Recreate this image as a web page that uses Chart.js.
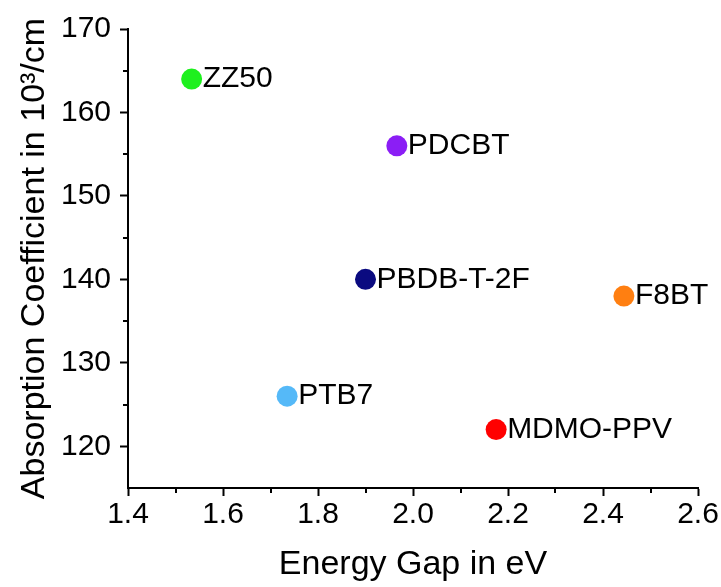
<!DOCTYPE html>
<html>
<head>
<meta charset="utf-8">
<script src="https://cdn.jsdelivr.net/npm/chart.js@4/dist/chart.umd.min.js"></script>
<style>
html,body{margin:0;padding:0;background:#fff;}
#wrap{width:721px;height:587px;position:relative;}
</style>
</head>
<body>
<div id="wrap"><canvas id="c" width="721" height="587"></canvas></div>
<script>
const materials = ["ZZ50", "PDCBT", "PBDB-T-2F", "F8BT", "PTB7", "MDMO-PPV"];
const energyGap = [1.534, 1.966, 1.900, 2.444, 1.735, 2.175];
const absorption = [164, 156, 140, 138, 126, 122];
const pointColors = ["#1ef01e", "#8b1ef5", "#0a0a80", "#ff7f11", "#55b9f8", "#ff0000"];
const xMajorTicks = [1.4, 1.6, 1.8, 2.0, 2.2, 2.4, 2.6];
const xMinorTicks = [1.5, 1.7, 1.9, 2.1, 2.3, 2.5];
const yMajorTicks = [120, 130, 140, 150, 160, 170];
const yMinorTicks = [125, 135, 145, 155, 165];

const FONT = "Arial, 'Liberation Sans', sans-serif";

const minorTickPlugin = {
  id: 'minorTicks',
  afterDraw(chart) {
    const ctx = chart.ctx;
    const xs = chart.scales.x, ys = chart.scales.y;
    ctx.save();
    ctx.strokeStyle = '#000';
    ctx.lineWidth = 2;
    ctx.beginPath();
    xMinorTicks.forEach(v => {
      const px = Math.round(xs.getPixelForValue(v));
      ctx.moveTo(px, xs.top);
      ctx.lineTo(px, xs.top + 5);
    });
    yMinorTicks.forEach(v => {
      const py = Math.round(ys.getPixelForValue(v));
      ctx.moveTo(ys.right, py);
      ctx.lineTo(ys.right - 5, py);
    });
    ctx.stroke();
    ctx.restore();
  }
};

const pointLabelPlugin = {
  id: 'pointLabels',
  afterDatasetsDraw(chart) {
    const ctx = chart.ctx;
    const meta = chart.getDatasetMeta(0);
    ctx.save();
    ctx.fillStyle = '#000';
    ctx.font = "30px " + FONT;
    ctx.textAlign = 'left';
    ctx.textBaseline = 'middle';
    meta.data.forEach((el, i) => {
      ctx.fillText(materials[i], el.x + 11, el.y);
    });
    ctx.restore();
  }
};

new Chart(document.getElementById('c'), {
  type: 'scatter',
  data: {
    datasets: [{
      data: energyGap.map((x, i) => ({x: x, y: absorption[i]})),
      pointBackgroundColor: pointColors,
      pointBorderWidth: 0,
      pointRadius: 10.5,
      pointHoverRadius: 10.5
    }]
  },
  options: {
    responsive: false,
    animation: false,
    events: [],
    layout: { padding: { top: 29, right: 23, left: 0, bottom: 0 } },
    plugins: { legend: { display: false }, tooltip: { enabled: false } },
    scales: {
      x: {
        type: 'linear',
        min: 1.4, max: 2.6,
        afterBuildTicks: s => { s.ticks = xMajorTicks.map(v => ({value: v})); },
        afterFit: s => { s.height = 99; },
        ticks: {
          color: '#000',
          font: { family: FONT, size: 30 },
          padding: 1,
          maxRotation: 0,
          autoSkip: false,
          callback: v => Number(v).toFixed(1)
        },
        grid: { drawOnChartArea: false, drawTicks: true, tickLength: 8, tickWidth: 2, tickColor: '#000' },
        border: { display: true, color: '#000', width: 2 },
        title: { display: true, text: 'Energy Gap in eV', color: '#000', font: { family: FONT, size: 34 }, padding: { top: 0, bottom: 2 } }
      },
      y: {
        type: 'linear',
        min: 115, max: 170,
        afterBuildTicks: s => { s.ticks = yMajorTicks.map(v => ({value: v})); },
        afterFit: s => { s.width = 128; },
        ticks: {
          color: '#000',
          font: { family: FONT, size: 30 },
          padding: 9,
          autoSkip: false,
          callback: v => String(v)
        },
        grid: { drawOnChartArea: false, drawTicks: true, tickLength: 8, tickWidth: 2, tickColor: '#000' },
        border: { display: true, color: '#000', width: 2 },
        title: { display: true, text: 'Absorption Coefficient in 10³/cm', color: '#000', font: { family: FONT, size: 34 }, padding: { top: 14, bottom: 0 } }
      }
    }
  },
  plugins: [minorTickPlugin, pointLabelPlugin]
});
</script>
</body>
</html>
